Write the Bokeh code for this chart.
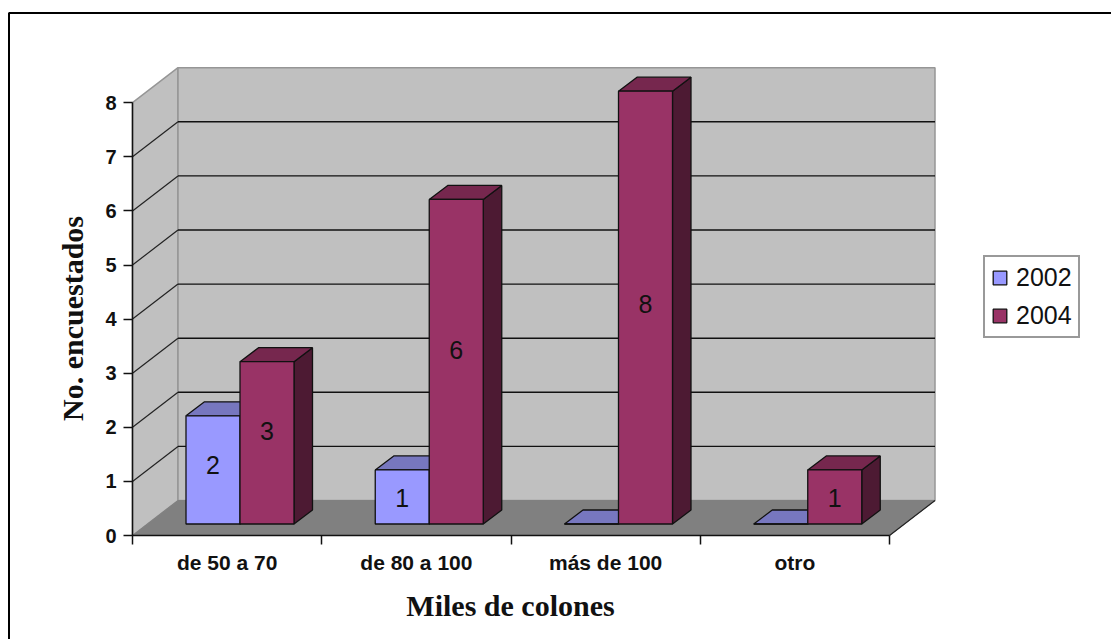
from bokeh.embed import file_html
from bokeh.resources import INLINE
from bokeh.plotting import figure
from bokeh.core.properties import value
from bokeh.models import Range1d, FixedTicker, Legend, LegendItem, Label, LinearAxis

categories = ["de 50 a 70", "de 80 a 100", "más de 100", "otro"]
values_2002 = [2, 1, 0, 0]
values_2004 = [3, 6, 8, 1]
y_ticks = [0, 1, 2, 3, 4, 5, 6, 7, 8]
grid_levels = [1, 2, 3, 4, 5, 6, 7]
label_heights_2002 = [1.31, 0.70]
label_heights_2004 = [1.94, 3.42, 4.27, 0.70]

# pixels per data unit, and where data (0, 0) sits on the page
PX, PY = 189.25, 54.1
X0, Y0 = 132, 535
def sx(px): return px / PX
def sy(px): return px / PY

W, H = 1111, 639

p = figure(width=W, height=H, output_backend="svg", toolbar_location=None,
           x_range=Range1d(sx(-X0), sx(W - X0)), y_range=Range1d(sy(Y0 - H), sy(Y0)),
           x_axis_location=None, y_axis_location=None,
           min_border_left=0, min_border_right=0, min_border_top=0, min_border_bottom=0,
           outline_line_color=None, background_fill_color="white", border_fill_color="white")
p.grid.visible = False

# outer border: top and left edges of the picture frame
p.line([sx(W - X0), sx(8.5 - X0), sx(8.5 - X0)], [sy(Y0 - 12.5), sy(Y0 - 12.5), sy(Y0 - H)],
       line_color="#000000", line_width=2)

# 3D chart box
WX, WY = sx(45.5), sy(35)
NCAT = len(categories)
TOP = y_ticks[-1]
p.patch([0, WX, WX, 0], [0, WY, TOP + WY, TOP], fill_color="#C0C0C0", line_color="#969696", line_width=1.5)
p.patch([WX, NCAT + WX, NCAT + WX, WX], [WY, WY, TOP + WY, TOP + WY],
        fill_color="#C0C0C0", line_color="#969696", line_width=1.5)
p.multi_line([[WX, NCAT + WX] for _ in grid_levels], [[g + WY, g + WY] for g in grid_levels],
             line_color="#111111", line_width=1.4)
p.multi_line([[0, WX] for _ in grid_levels], [[g, g + WY] for g in grid_levels],
             line_color="#222222", line_width=1.2)
p.patch([0, NCAT, NCAT + WX, WX], [0, 0, WY, WY], fill_color="#808080", line_color="#808080")
p.line([NCAT, NCAT + WX], [0, WY], line_color="#222222", line_width=1.2)

# bars
OX, OY = sx(53.5), sy(11.5)   # front-left corner within a category
BW = sx(54)
BDX, BDY = sx(18.5), sy(14)

def bar_series(vals, shift, face, top, side):
    lefts = [i + OX + shift for i in range(len(vals))]
    rights = [l + BW for l in lefts]
    p.patches([[r, r + BDX, r + BDX, r] for r in rights],
              [[OY, OY + BDY, v + OY + BDY, v + OY] for v in vals],
              fill_color=side, line_color="#111111", line_width=1.3)
    p.patches([[l, r, r + BDX, l + BDX] for l, r in zip(lefts, rights)],
              [[v + OY, v + OY, v + OY + BDY, v + OY + BDY] for v in vals],
              fill_color=top, line_color="#111111", line_width=1.3)
    q = p.quad(left=lefts, right=rights, bottom=[OY] * len(vals), top=[v + OY for v in vals],
               fill_color=face, line_color="#111111", line_width=1.3)
    return q, lefts

q02, l02 = bar_series(values_2002, 0, "#9999FF", "#7777BF", "#4D4D80")
q04, l04 = bar_series(values_2004, BW, "#993366", "#76274E", "#4D1A33")

for lefts, vals, heights in ((l02, values_2002, label_heights_2002),
                             (l04, values_2004, label_heights_2004)):
    shown = [i for i, v in enumerate(vals) if v > 0]
    p.text([lefts[i] + BW / 2 for i in shown], heights,
           text=[str(vals[i]) for i in shown], text_align="center", text_baseline="middle",
           text_font=value("Liberation Sans"), text_font_size="25px", text_color="#111111")

# axes
xa = LinearAxis(fixed_location=0)
xa.bounds = (0, NCAT)
xa.ticker = FixedTicker(ticks=[i + 0.5 for i in range(NCAT)], minor_ticks=list(range(NCAT + 1)))
xa.major_label_overrides = {i + 0.5: c for i, c in enumerate(categories)}
xa.major_tick_out = 0
xa.major_tick_in = 0
xa.minor_tick_out = 9
xa.minor_tick_in = 0
xa.minor_tick_line_color = "#111111"
xa.minor_tick_line_width = 1.5
xa.axis_line_color = "#111111"
xa.axis_line_width = 1.5
xa.major_label_standoff = 6
xa.major_label_text_font = "Liberation Sans"
xa.major_label_text_font_style = "bold"
xa.major_label_text_font_size = "21px"
xa.major_label_text_color = "#111111"
p.add_layout(xa, "below")

ya = LinearAxis(fixed_location=0)
ya.bounds = (0, TOP)
ya.ticker = FixedTicker(ticks=y_ticks, minor_ticks=[])
ya.major_tick_out = 9
ya.major_tick_in = 0
ya.major_tick_line_color = "#111111"
ya.major_tick_line_width = 1.5
ya.axis_line_color = "#111111"
ya.axis_line_width = 1.5
ya.major_label_standoff = 7
ya.major_label_text_font = "Liberation Sans"
ya.major_label_text_font_style = "bold"
ya.major_label_text_font_size = "20px"
ya.major_label_text_color = "#111111"
p.add_layout(ya, "left")

# axis titles
p.add_layout(Label(x=sx(510 - X0), y=sy(Y0 - 605), text="Miles de colones",
                   text_align="center", text_baseline="middle",
                   text_font="Liberation Serif", text_font_style="bold",
                   text_font_size="30px", text_color="#111111"))
p.add_layout(Label(x=sx(72 - X0), y=sy(Y0 - 318), text="No. encuestados", angle=90, angle_units="deg",
                   text_align="center", text_baseline="middle",
                   text_font="Liberation Serif", text_font_style="bold",
                   text_font_size="30px", text_color="#111111"))

# legend
leg = Legend(items=[LegendItem(label="2002", renderers=[q02]), LegendItem(label="2004", renderers=[q04])],
             location=(983, 301), orientation="vertical",
             glyph_width=17, glyph_height=17, label_height=26, spacing=9, padding=6, margin=0,
             label_standoff=8, label_text_font="Liberation Sans", label_text_font_size="25px",
             label_text_color="#111111", border_line_color="#333333", border_line_width=2,
             background_fill_color="white", background_fill_alpha=1)
p.add_layout(leg)

open("out.html", "w").write(file_html(p, INLINE))
